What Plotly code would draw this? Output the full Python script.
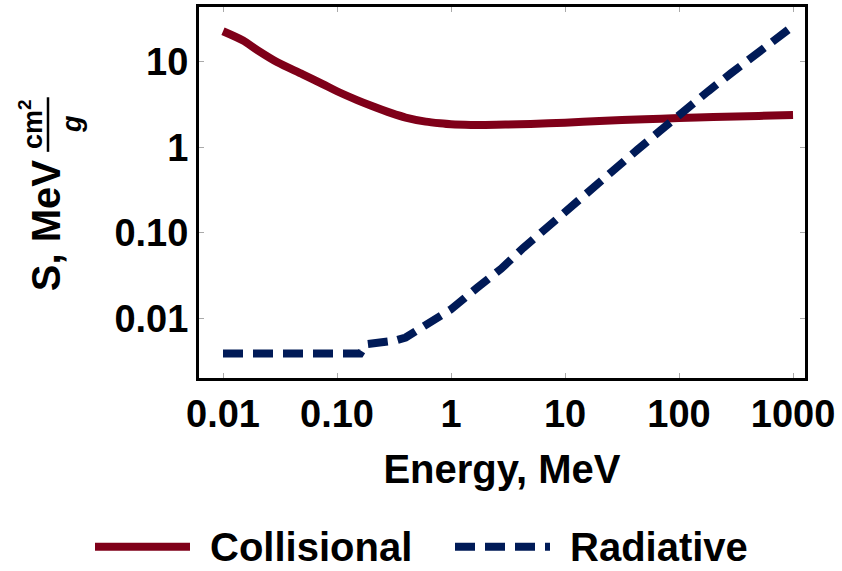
import plotly.graph_objects as go

# ---------------- data ----------------
energy_coll = [0.01, 0.015, 0.02, 0.03, 0.05, 0.075, 0.1, 0.15, 0.2, 0.3, 0.4, 0.6, 0.8,
               1, 1.5, 2, 3, 5, 10, 20, 50, 100, 200, 500, 1000]
s_collisional = [22.6, 17.6, 13.6, 9.8, 7.1, 5.45, 4.5, 3.55, 3.05, 2.5, 2.22, 1.99, 1.9,
                 1.85, 1.82, 1.82, 1.84, 1.87, 1.93, 2.02, 2.12, 2.19, 2.25, 2.32, 2.37]

energy_rad = [0.01, 0.05, 0.1, 0.16, 0.18, 0.25, 0.32, 0.4, 0.65, 1, 1.7, 2.75, 4.3, 6.8,
              10, 17, 43, 68, 100, 180, 286, 500, 1000]
s_radiative = [0.0039, 0.0039, 0.0039, 0.0039, 0.0050, 0.0052, 0.0055, 0.0060, 0.0088, 0.0128,
               0.0229, 0.038, 0.0666, 0.113, 0.183, 0.33, 0.93, 1.55, 2.4, 4.5, 7.3, 12.8, 26]

series_names = ["Collisional", "Radiative"]
series_colors = ["#7f0019", "#001a57"]

x_tickvals = [0.01, 0.1, 1, 10, 100, 1000]
x_ticktext = ["0.01", "0.10", "1", "10", "100", "1000"]
y_tickvals = [0.01, 0.1, 1, 10]
y_ticktext = ["0.01", "0.10", "1", "10"]

# ---------------- layout geometry (pixels) ----------------
W, H = 842, 571
L, R, T, B = 199, 805, 4, 378   # plot area edges


def px(xp):
    return (xp - L) / (R - L)


def py(yp):
    return (B - yp) / (B - T)


FONT = "Liberation Sans, Arial, sans-serif"

fig = go.Figure()
fig.add_trace(go.Scatter(x=energy_coll, y=s_collisional, mode="lines", name=series_names[0],
                         line=dict(color=series_colors[0], width=8, shape="spline",
                                   smoothing=0.8),
                         showlegend=False))
fig.add_trace(go.Scatter(x=energy_rad, y=s_radiative, mode="lines", name=series_names[1],
                         line=dict(color=series_colors[1], width=8, dash="20px,10px"),
                         showlegend=False))

axis_common = dict(
    type="log", showgrid=False, zeroline=False,
    showline=True, linecolor="black", linewidth=3, mirror="allticks",
    ticks="inside", ticklen=5, tickwidth=1, tickcolor="#aaaaaa",
    tickfont=dict(family=FONT, size=38, color="black", weight="bold"),
)

fig.update_xaxes(range=[-2.2105, 3.105], tickvals=x_tickvals, ticktext=x_ticktext,
                 title=dict(text="Energy, MeV", standoff=22,
                            font=dict(family=FONT, size=40, color="black", weight="bold")),
                 **axis_common)
fig.update_yaxes(range=[-2.695, 1.637], tickvals=y_tickvals, ticktext=y_ticktext,
                 **axis_common)

annotations = []
shapes = []

# y-axis title: "S, MeV" followed by a fraction cm^2 / g (rotated)
annotations.append(dict(text="S, MeV", textangle=-90, xref="paper", yref="paper",
                        x=px(46), y=py(225), xanchor="center", yanchor="middle",
                        showarrow=False,
                        font=dict(family=FONT, size=40, color="black", weight="bold")))
annotations.append(dict(text="cm<sup>2</sup>", textangle=-90, xref="paper", yref="paper",
                        x=px(31), y=py(122), xanchor="center", yanchor="middle",
                        showarrow=False,
                        font=dict(family=FONT, size=27, color="black", weight="bold")))
annotations.append(dict(text="<i>g</i>", textangle=-90, xref="paper", yref="paper",
                        x=px(72), y=py(122), xanchor="center", yanchor="middle",
                        showarrow=False,
                        font=dict(family=FONT, size=27, color="black", weight="bold")))
shapes.append(dict(type="line", xref="paper", yref="paper",
                   x0=px(48), x1=px(48), y0=py(95), y1=py(150),
                   line=dict(color="black", width=2.5)))

# legend (drawn below the plot)
leg_y = py(548)
leg_items = [(95, 190, 208, "solid"), (455, 550, 568, "20px,10px")]
for (x0, x1, xt, dash), name, col in zip(leg_items, series_names, series_colors):
    shapes.append(dict(type="line", xref="paper", yref="paper",
                       x0=px(x0), x1=px(x1), y0=leg_y, y1=leg_y,
                       line=dict(color=col, width=8, dash=dash)))
    annotations.append(dict(text=name, xref="paper", yref="paper",
                            x=px(xt), y=leg_y, xanchor="left", yanchor="middle",
                            showarrow=False,
                            font=dict(family=FONT, size=40, color="black", weight="bold")))

fig.update_layout(
    width=W, height=H,
    margin=dict(l=L, r=W - R, t=T, b=H - B),
    paper_bgcolor="white", plot_bgcolor="white",
    annotations=annotations, shapes=shapes,
    showlegend=False,
)

fig.write_html("out.html")
